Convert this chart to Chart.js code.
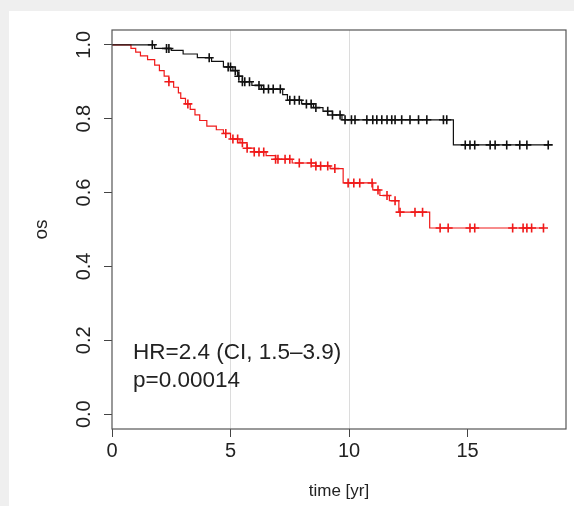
<!DOCTYPE html>
<html>
<head>
<meta charset="utf-8">
<script src="https://cdn.jsdelivr.net/npm/chart.js@4.4.0/dist/chart.umd.min.js"></script>
<style>
  html, body { margin: 0; padding: 0; background: #efefef; }
  #kmChart { position: absolute; left: 0; top: 0; }
</style>
</head>
<body>
<canvas id="kmChart" width="574" height="506"></canvas>
<script>
// axis ticks
const xTicks = [0, 5, 10, 15];
const xGridAt = [5, 10];
const yTicks = [0, 0.2, 0.4, 0.6, 0.8, 1.0];
const yTickLabels = ["0.0", "0.2", "0.4", "0.6", "0.8", "1.0"];

// black curve: step times and survival after each step
const blackTimes = [0, 1.8, 2.5, 3.0, 3.6, 4.2, 4.7, 5.1, 5.3, 5.5, 5.9, 6.3, 7.2, 7.4, 8.0, 8.5, 8.9, 9.3, 9.7, 14.4];
const blackSurv = [1.0, 0.99, 0.985, 0.975, 0.965, 0.955, 0.94, 0.93, 0.915, 0.90, 0.89, 0.88, 0.865, 0.85, 0.84, 0.83, 0.82, 0.81, 0.797, 0.729];
const blackEnd = 18.4;
const blackCensor = [1.7, 2.3, 2.4, 4.1, 4.9, 5.0, 5.2, 5.35, 5.5, 5.6, 5.8, 6.2, 6.4, 6.6, 6.8, 7.1, 7.5, 7.7, 7.9, 8.2, 8.4, 8.6, 9.1, 9.3,
  9.62, 9.83, 10.1, 10.25, 10.75, 11.0, 11.17, 11.38, 11.6, 11.8, 11.94, 12.22, 12.57, 12.93, 13.28, 13.98, 14.12,
  14.9, 15.1, 15.3, 15.95, 16.16, 16.65, 17.2, 17.5, 18.4];

// red curve
const redTimes = [0, 0.8, 1.0, 1.2, 1.5, 1.8, 2.0, 2.2, 2.4, 2.6, 2.8, 2.9, 3.1, 3.3, 3.5, 3.7, 4.0, 4.4, 4.7, 5.0, 5.4, 5.7, 6.0, 6.5, 6.9, 7.6, 8.6, 9.2, 9.75, 11.0, 11.3, 11.7, 12.1, 13.4];
const redSurv = [1.0, 0.99, 0.98, 0.97, 0.96, 0.945, 0.93, 0.915, 0.90, 0.885, 0.87, 0.855, 0.84, 0.825, 0.81, 0.795, 0.78, 0.77, 0.76, 0.745, 0.735, 0.72, 0.71, 0.70, 0.69, 0.68, 0.672, 0.665, 0.626, 0.607, 0.592, 0.578, 0.547, 0.504];
const redEnd = 18.2;
const redCensor = [2.4, 3.2, 4.8, 5.1, 5.3, 5.5, 5.7, 6.0, 6.2, 6.4, 6.9, 7.0, 7.3, 7.5, 7.9, 8.4, 8.6, 8.8, 9.1, 9.4,
  9.96, 10.2, 10.45, 10.97, 11.22, 11.6, 11.94, 12.15, 12.78, 13.1, 13.84, 14.18, 15.1, 15.3, 16.9, 17.34, 17.5, 17.7, 18.2];

const annotLines = ["HR=2.4 (CI, 1.5\u20133.9)", "p=0.00014"];

const FONT = '"Liberation Sans", Arial, Helvetica, sans-serif';

function stepPoints(times, surv, end) {
  const pts = times.map((t, i) => ({ x: t, y: surv[i] }));
  pts.push({ x: end, y: surv[surv.length - 1] });
  return pts;
}

function survAt(times, surv, t) {
  let s = surv[0];
  for (let i = 0; i < times.length; i++) {
    if (times[i] <= t) s = surv[i];
  }
  return s;
}

function censorPoints(censor, times, surv) {
  return censor.map(t => ({ x: t, y: survAt(times, surv, t) }));
}

const decorPlugin = {
  id: "decor",
  beforeDraw(chart) {
    const ctx = chart.ctx;
    ctx.save();
    ctx.fillStyle = "#efefef";
    ctx.fillRect(0, 0, chart.width, chart.height);
    ctx.fillStyle = "#ffffff";
    ctx.fillRect(9, 11, chart.width - 9, chart.height - 11);
    ctx.restore();
  },
  afterDraw(chart) {
    const ctx = chart.ctx;
    const area = chart.chartArea;
    const yScale = chart.scales.y;
    ctx.save();
    // plot box
    ctx.strokeStyle = "#555";
    ctx.lineWidth = 1.2;
    ctx.strokeRect(area.left, area.top, area.right - area.left, area.bottom - area.top);

    // rotated y tick labels
    ctx.fillStyle = "#222";
    ctx.font = "20px " + FONT;
    ctx.textAlign = "center";
    ctx.textBaseline = "middle";
    yTicks.forEach((v, i) => {
      const py = yScale.getPixelForValue(v);
      ctx.save();
      ctx.translate(84, py);
      ctx.rotate(-Math.PI / 2);
      ctx.fillText(yTickLabels[i], 0, 0);
      ctx.restore();
    });

    // annotation
    ctx.textAlign = "left";
    ctx.font = "22.5px " + FONT;
    ctx.fillText(annotLines[0], 133, 353);
    ctx.fillText(annotLines[1], 133, 381);
    ctx.restore();
  }
};

new Chart(document.getElementById("kmChart").getContext("2d"), {
  type: "line",
  data: {
    datasets: [
      {
        label: "black",
        data: stepPoints(blackTimes, blackSurv, blackEnd),
        borderColor: "#111111",
        borderWidth: 1.2,
        stepped: "before",
        pointRadius: 0,
        fill: false
      },
      {
        label: "red",
        data: stepPoints(redTimes, redSurv, redEnd),
        borderColor: "#f01a1a",
        borderWidth: 1.2,
        stepped: "before",
        pointRadius: 0,
        fill: false
      },
      {
        label: "black censored",
        data: censorPoints(blackCensor, blackTimes, blackSurv),
        showLine: false,
        pointStyle: "cross",
        pointRadius: 4.5,
        pointBorderWidth: 1.6,
        pointBorderColor: "#111111"
      },
      {
        label: "red censored",
        data: censorPoints(redCensor, redTimes, redSurv),
        showLine: false,
        pointStyle: "cross",
        pointRadius: 4.5,
        pointBorderWidth: 1.6,
        pointBorderColor: "#f01a1a"
      }
    ]
  },
  options: {
    responsive: false,
    animation: false,
    layout: { padding: { top: 30, right: 8, left: 0, bottom: 0 } },
    plugins: {
      legend: { display: false },
      tooltip: { enabled: false }
    },
    scales: {
      x: {
        type: "linear",
        min: 0,
        max: 19.15,
        afterBuildTicks: scale => { scale.ticks = xTicks.map(v => ({ value: v })); },
        afterFit: scale => { scale.height = 77; },
        border: { display: false },
        grid: {
          color: ctx => (ctx.tick && xGridAt.includes(ctx.tick.value)) ? "#dcdcdc" : "rgba(0,0,0,0)",
          tickColor: "#444",
          tickLength: 8,
          lineWidth: 1
        },
        ticks: {
          color: "#222",
          font: { family: FONT, size: 20 },
          padding: 2,
          maxRotation: 0
        },
        title: {
          display: true,
          text: "time [yr]",
          color: "#222",
          font: { family: FONT, size: 17 },
          padding: { top: 0, bottom: 4 }
        }
      },
      y: {
        type: "linear",
        min: -0.04,
        max: 1.04,
        afterBuildTicks: scale => { scale.ticks = yTicks.map(v => ({ value: v })); },
        afterFit: scale => { scale.width = 112; },
        border: { display: false },
        grid: {
          color: "rgba(0,0,0,0)",
          tickColor: "#444",
          tickLength: 8
        },
        ticks: { display: false },
        title: {
          display: true,
          text: "os",
          color: "#222",
          font: { family: FONT, size: 19 },
          padding: { top: 30, bottom: 0 }
        }
      }
    }
  },
  plugins: [decorPlugin]
});
</script>
</body>
</html>
